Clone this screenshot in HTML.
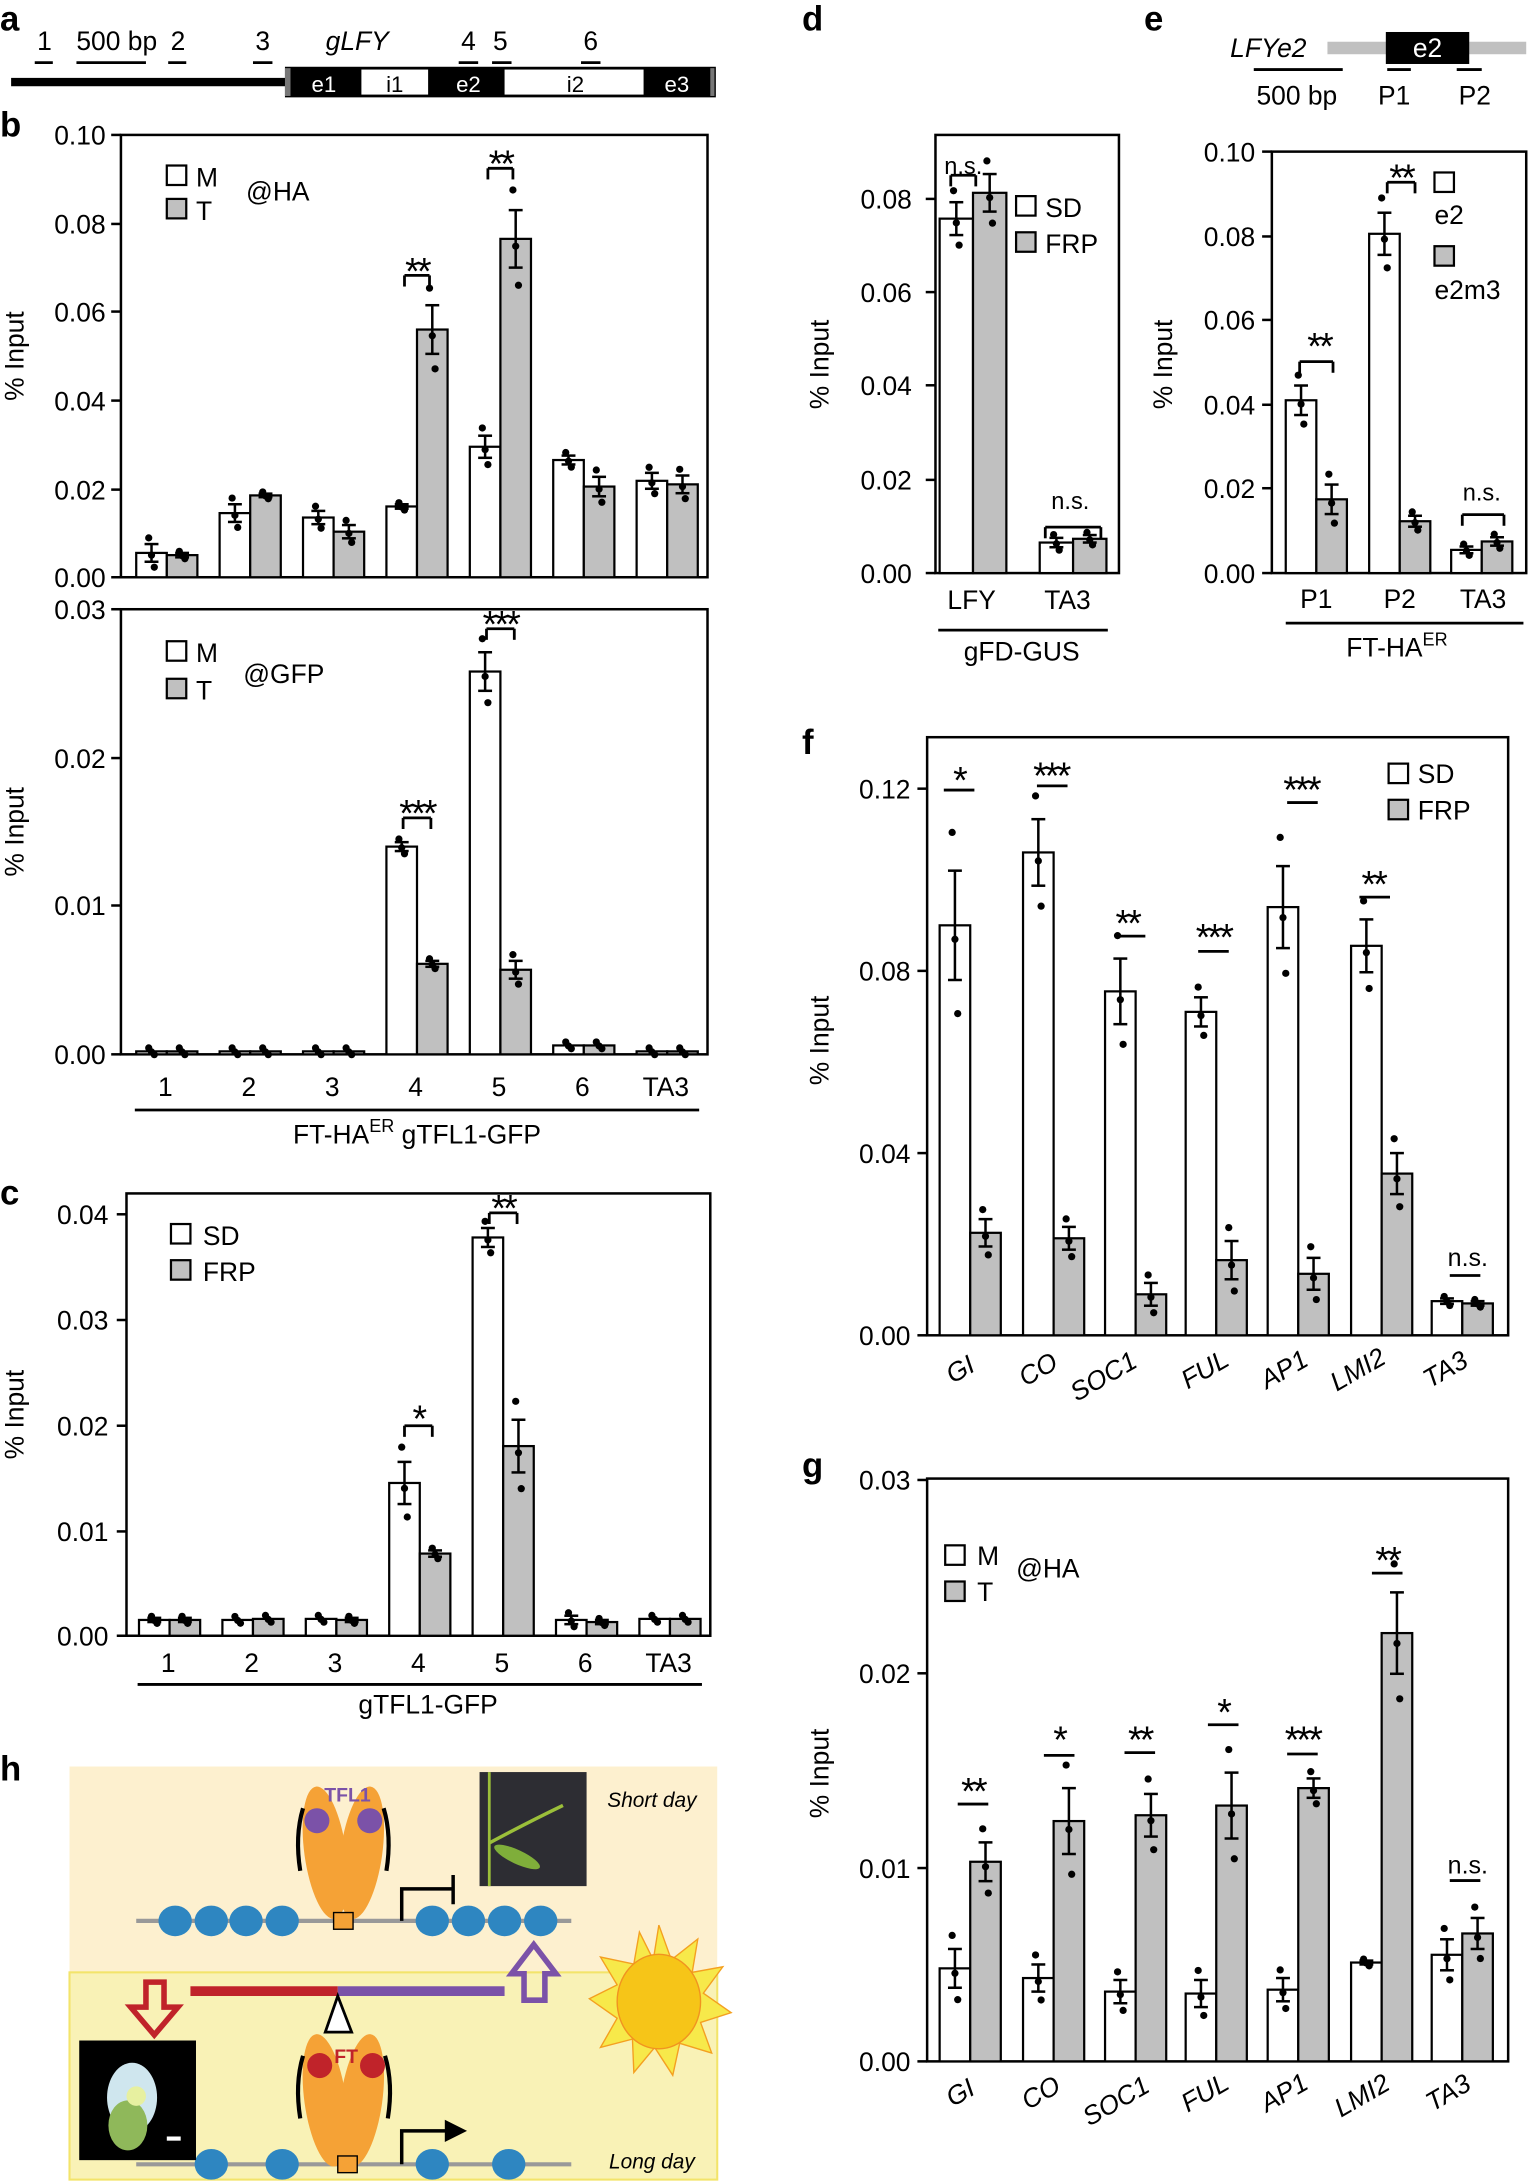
<!DOCTYPE html>
<html><head><meta charset="utf-8">
<style>
html,body{margin:0;padding:0;background:#fff;}
svg{display:block;}
text{font-family:"Liberation Sans",Arial,sans-serif;fill:#000;}
.t{font-size:19px;}
.L{font-size:25px;font-weight:bold;}
.st{font-size:27px;letter-spacing:-2px;}
</style></head>
<body>
<svg id="s" width="1529" height="2181" viewBox="0 0 1100 1568" preserveAspectRatio="none" xmlns="http://www.w3.org/2000/svg">
<rect width="1100" height="1568" fill="#fff"/>
<text class="L" x="0" y="22">a</text>
<text class="L" x="0" y="98">b</text>
<text class="L" x="0" y="866">c</text>
<text class="L" x="577" y="22">d</text>
<text class="L" x="823" y="22">e</text>
<text class="L" x="577" y="542">f</text>
<text class="L" x="577" y="1062">g</text>
<text class="L" x="0" y="1280">h</text>

<g>
<rect x="8" y="56" width="198" height="6" fill="#000"/>
<rect x="205" y="48" width="310" height="22" fill="#000"/>
<rect x="205" y="49" width="4" height="20" fill="#777"/>
<rect x="511" y="49" width="3" height="20" fill="#777"/>
<rect x="260" y="50" width="48" height="18" fill="#fff"/>
<rect x="363" y="50" width="100" height="18" fill="#fff"/>
<text x="233" y="66" font-size="16" text-anchor="middle" style="fill:#fff">e1</text>
<text x="284" y="66" font-size="16" text-anchor="middle">i1</text>
<text x="337" y="66" font-size="16" text-anchor="middle" style="fill:#fff">e2</text>
<text x="414" y="66" font-size="16" text-anchor="middle">i2</text>
<text x="487" y="66" font-size="16" text-anchor="middle" style="fill:#fff">e3</text>
<g stroke="#000" stroke-width="2">
<line x1="25" y1="45" x2="38" y2="45"/><line x1="55" y1="45" x2="105" y2="45"/>
<line x1="121" y1="45" x2="134" y2="45"/><line x1="182" y1="45" x2="196" y2="45"/>
<line x1="330" y1="45" x2="344" y2="45"/><line x1="354" y1="45" x2="368" y2="45"/>
<line x1="418" y1="45" x2="432" y2="45"/>
</g>
<text class="t" x="32" y="36" text-anchor="middle">1</text>
<text class="t" x="84" y="36" text-anchor="middle">500 bp</text>
<text class="t" x="128" y="36" text-anchor="middle">2</text>
<text class="t" x="189" y="36" text-anchor="middle">3</text>
<text class="t" x="257" y="36" text-anchor="middle" font-style="italic">gLFY</text>
<text class="t" x="337" y="36" text-anchor="middle">4</text>
<text class="t" x="360" y="36" text-anchor="middle">5</text>
<text class="t" x="425" y="36" text-anchor="middle">6</text>
</g>

<g text-anchor="end">
<text class="t" x="76" y="104">0.10</text><text class="t" x="76" y="168">0.08</text>
<text class="t" x="76" y="231">0.06</text><text class="t" x="76" y="295">0.04</text>
<text class="t" x="76" y="359">0.02</text><text class="t" x="76" y="422">0.00</text>
</g>
<text class="t" transform="translate(17,256) rotate(-90)" text-anchor="middle">% Input</text>
<text class="t" x="141" y="134">M</text><text class="t" x="141" y="158">T</text>
<text class="t" x="177" y="144">@HA</text>
<text class="st" x="300" y="204" text-anchor="middle">**</text>
<text class="st" x="360" y="127" text-anchor="middle">**</text>

<g text-anchor="end">
<text class="t" x="76" y="445">0.03</text><text class="t" x="76" y="552">0.02</text>
<text class="t" x="76" y="658">0.01</text><text class="t" x="76" y="765">0.00</text>
</g>
<text class="t" transform="translate(17,598) rotate(-90)" text-anchor="middle">% Input</text>
<text class="t" x="141" y="476">M</text><text class="t" x="141" y="503">T</text>
<text class="t" x="175" y="491">@GFP</text>
<text class="st" x="300" y="594" text-anchor="middle">***</text>
<text class="st" x="360" y="458" text-anchor="middle">***</text>
<g text-anchor="middle">
<text class="t" x="119" y="788">1</text><text class="t" x="179" y="788">2</text><text class="t" x="239" y="788">3</text>
<text class="t" x="299" y="788">4</text><text class="t" x="359" y="788">5</text><text class="t" x="419" y="788">6</text>
<text class="t" x="479" y="788">TA3</text>
</g>
<line x1="97" y1="798" x2="503" y2="798" stroke="#000" stroke-width="2"/>
<text class="t" x="300" y="822" text-anchor="middle">FT-HA<tspan font-size="13" dy="-8">ER</tspan><tspan dy="8"> gTFL1-GFP</tspan></text>

<g text-anchor="end">
<text class="t" x="78" y="880">0.04</text><text class="t" x="78" y="956">0.03</text>
<text class="t" x="78" y="1032">0.02</text><text class="t" x="78" y="1108">0.01</text>
<text class="t" x="78" y="1183">0.00</text>
</g>
<text class="t" transform="translate(17,1017) rotate(-90)" text-anchor="middle">% Input</text>
<text class="t" x="146" y="895">SD</text><text class="t" x="146" y="921">FRP</text>
<text class="st" x="301" y="1029" text-anchor="middle">*</text>
<text class="st" x="362" y="878" text-anchor="middle">**</text>
<g text-anchor="middle">
<text class="t" x="121" y="1202">1</text><text class="t" x="181" y="1202">2</text><text class="t" x="241" y="1202">3</text>
<text class="t" x="301" y="1202">4</text><text class="t" x="361" y="1202">5</text><text class="t" x="421" y="1202">6</text>
<text class="t" x="481" y="1202">TA3</text>
</g>
<line x1="99" y1="1211" x2="505" y2="1211" stroke="#000" stroke-width="2"/>
<text class="t" x="308" y="1232" text-anchor="middle">gTFL1-GFP</text>

<g text-anchor="end">
<text class="t" x="656" y="150">0.08</text><text class="t" x="656" y="217">0.06</text>
<text class="t" x="656" y="284">0.04</text><text class="t" x="656" y="352">0.02</text>
<text class="t" x="656" y="419">0.00</text>
</g>
<text class="t" transform="translate(596,262) rotate(-90)" text-anchor="middle">% Input</text>
<text class="t" x="752" y="156">SD</text><text class="t" x="752" y="182">FRP</text>
<text x="693" y="125" font-size="17" text-anchor="middle">n.s.</text>
<text x="770" y="366" font-size="17" text-anchor="middle">n.s.</text>
<text class="t" x="699" y="438" text-anchor="middle">LFY</text>
<text class="t" x="768" y="438" text-anchor="middle">TA3</text>
<line x1="675" y1="453" x2="797" y2="453" stroke="#000" stroke-width="2"/>
<text class="t" x="735" y="475" text-anchor="middle">gFD-GUS</text>

<text class="t" x="885" y="41" font-style="italic">LFYe2</text>
<rect x="955" y="30" width="143" height="9" fill="#c0c0c0"/>
<rect x="997" y="23" width="60" height="23" fill="#000"/>
<text class="t" x="1027" y="41" text-anchor="middle" style="fill:#fff">e2</text>
<g stroke="#000" stroke-width="2">
<line x1="902" y1="50" x2="966" y2="50"/><line x1="998" y1="50" x2="1015" y2="50"/><line x1="1048" y1="50" x2="1066" y2="50"/>
</g>
<text class="t" x="933" y="75" text-anchor="middle">500 bp</text>
<text class="t" x="1003" y="75" text-anchor="middle">P1</text>
<text class="t" x="1061" y="75" text-anchor="middle">P2</text>
<g text-anchor="end">
<text class="t" x="903" y="116">0.10</text><text class="t" x="903" y="177">0.08</text>
<text class="t" x="903" y="237">0.06</text><text class="t" x="903" y="298">0.04</text>
<text class="t" x="903" y="358">0.02</text><text class="t" x="903" y="419">0.00</text>
</g>
<text class="t" transform="translate(843,262) rotate(-90)" text-anchor="middle">% Input</text>
<text class="t" x="1032" y="161">e2</text><text class="t" x="1032" y="215">e2m3</text>
<text class="st" x="949" y="258" text-anchor="middle">**</text>
<text class="st" x="1008" y="137" text-anchor="middle">**</text>
<text x="1066" y="360" font-size="17" text-anchor="middle">n.s.</text>
<text class="t" x="947" y="437" text-anchor="middle">P1</text>
<text class="t" x="1007" y="437" text-anchor="middle">P2</text>
<text class="t" x="1067" y="437" text-anchor="middle">TA3</text>
<line x1="925" y1="448" x2="1096" y2="448" stroke="#000" stroke-width="2"/>
<text class="t" x="1005" y="472" text-anchor="middle">FT-HA<tspan font-size="13" dy="-8">ER</tspan></text>

<g text-anchor="end">
<text class="t" x="655" y="574">0.12</text><text class="t" x="655" y="705">0.08</text>
<text class="t" x="655" y="836">0.04</text><text class="t" x="655" y="967">0.00</text>
</g>
<text class="t" transform="translate(596,748) rotate(-90)" text-anchor="middle">% Input</text>
<text class="t" x="1020" y="563">SD</text><text class="t" x="1020" y="589">FRP</text>
<g text-anchor="middle">
<text class="st" x="690" y="570">*</text><text class="st" x="756" y="567">***</text>
<text class="st" x="811" y="673">**</text><text class="st" x="873" y="683">***</text>
<text class="st" x="936" y="577">***</text><text class="st" x="988" y="645">**</text>
</g>
<text x="1056" y="910" font-size="18" text-anchor="middle">n.s.</text>
<g font-style="italic" text-anchor="middle">
<text class="t" transform="translate(694,990) rotate(-30)">GI</text>
<text class="t" transform="translate(750,990) rotate(-30)">CO</text>
<text class="t" transform="translate(797,995) rotate(-30)">SOC1</text>
<text class="t" transform="translate(870,990) rotate(-30)">FUL</text>
<text class="t" transform="translate(927,990) rotate(-30)">AP1</text>
<text class="t" transform="translate(980,990) rotate(-30)">LMI2</text>
<text class="t" transform="translate(1043,990) rotate(-30)">TA3</text>
</g>

<g text-anchor="end">
<text class="t" x="655" y="1071">0.03</text><text class="t" x="655" y="1210">0.02</text>
<text class="t" x="655" y="1350">0.01</text><text class="t" x="655" y="1489">0.00</text>
</g>
<text class="t" transform="translate(596,1275) rotate(-90)" text-anchor="middle">% Input</text>
<text class="t" x="703" y="1125">M</text><text class="t" x="703" y="1151">T</text>
<text class="t" x="731" y="1134">@HA</text>
<g text-anchor="middle">
<text class="st" x="700" y="1297">**</text><text class="st" x="762" y="1260">*</text>
<text class="st" x="820" y="1260">**</text><text class="st" x="880" y="1240">*</text>
<text class="st" x="937" y="1260">***</text><text class="st" x="998" y="1131">**</text>
</g>
<text x="1056" y="1347" font-size="18" text-anchor="middle">n.s.</text>
<g font-style="italic" text-anchor="middle">
<text class="t" transform="translate(694,1510) rotate(-30)">GI</text>
<text class="t" transform="translate(752,1510) rotate(-30)">CO</text>
<text class="t" transform="translate(806,1516) rotate(-30)">SOC1</text>
<text class="t" transform="translate(870,1510) rotate(-30)">FUL</text>
<text class="t" transform="translate(927,1510) rotate(-30)">AP1</text>
<text class="t" transform="translate(983,1512) rotate(-30)">LMI2</text>
<text class="t" transform="translate(1045,1510) rotate(-30)">TA3</text>
</g>

<g>
<rect x="50" y="1270" width="466" height="148" fill="#fdf0cf"/>
<rect x="50" y="1418" width="466" height="149" fill="#f9f2b6" stroke="#f3e46a" stroke-width="1.5"/>
<line x1="98" y1="1381" x2="411" y2="1381" stroke="#999" stroke-width="3"/>
<g fill="#2e86c1">
<ellipse cx="126" cy="1381" rx="12" ry="11"/><ellipse cx="152" cy="1381" rx="12" ry="11"/>
<ellipse cx="177" cy="1381" rx="12" ry="11"/><ellipse cx="203" cy="1381" rx="12" ry="11"/>
<ellipse cx="311" cy="1381" rx="12" ry="11"/><ellipse cx="337" cy="1381" rx="12" ry="11"/>
<ellipse cx="363" cy="1381" rx="12" ry="11"/><ellipse cx="389" cy="1381" rx="12" ry="11"/>
</g>
<ellipse cx="234" cy="1332" rx="15" ry="48" fill="#f5a236" transform="rotate(-8 234 1332)"/>
<ellipse cx="260" cy="1332" rx="15" ry="48" fill="#f5a236" transform="rotate(8 260 1332)"/>
<path d="M218 1300 Q212 1320 216 1345" stroke="#000" stroke-width="3" fill="none"/>
<path d="M276 1300 Q282 1320 278 1345" stroke="#000" stroke-width="3" fill="none"/>
<circle cx="228" cy="1309" r="9" fill="#7b52a8"/><circle cx="266" cy="1309" r="9" fill="#7b52a8"/>
<text x="250" y="1295" font-size="14" font-weight="bold" text-anchor="middle" style="fill:#7b52a8">TFL1</text>
<rect x="240" y="1375" width="14" height="12" fill="#f5a236" stroke="#000" stroke-width="1"/>
<path d="M289 1381 V1358 H326 M326 1348 V1369" stroke="#000" stroke-width="2.5" fill="none"/>
<rect x="345" y="1274" width="77" height="82" fill="#2d2d33"/>
<path d="M352 1274 V1356" stroke="#9bbf3a" stroke-width="2"/>
<path d="M352 1325 Q380 1310 405 1298" stroke="#9bbf3a" stroke-width="2.5" fill="none"/>
<ellipse cx="372" cy="1335" rx="18" ry="5" fill="#7fae3a" transform="rotate(25 372 1335)"/>
<text x="469" y="1299" font-size="15" font-style="italic" text-anchor="middle">Short day</text>
<text x="469" y="1559" font-size="15" font-style="italic" text-anchor="middle">Long day</text>
<rect x="137" y="1428" width="106" height="7" fill="#c0232a"/>
<rect x="243" y="1428" width="120" height="7" fill="#7b52a8"/>
<path d="M243 1435 L234 1461 L253 1461 Z" fill="#fff" stroke="#000" stroke-width="2"/>
<path d="M105 1425 H118 V1443 H128 L111 1463 L94 1443 H105 Z" fill="none" stroke="#c0232a" stroke-width="4"/>
<path d="M377 1438 V1419 H368 L384 1398 L400 1419 H392 V1438 Z" fill="none" stroke="#7b52a8" stroke-width="4"/>
<g transform="translate(474,1439)">
<path d="M0 -55 L9 -30 L28 -45 L24 -21 L46 -25 L32 -6 L52 8 L30 15 L38 37 L15 30 L10 53 L-3 33 L-18 51 L-19 27 L-42 33 L-30 12 L-50 -2 L-30 -12 L-42 -32 L-18 -27 L-14 -50 L-4 -30 Z" fill="#f7e94a" stroke="#f4a020" stroke-width="1"/>
<ellipse cx="0" cy="0" rx="30" ry="34" fill="#f6c518" stroke="#f19320" stroke-width="1"/>
</g>
<line x1="98" y1="1556" x2="411" y2="1556" stroke="#999" stroke-width="3"/>
<g fill="#2e86c1">
<ellipse cx="152" cy="1556" rx="12" ry="11"/><ellipse cx="203" cy="1556" rx="12" ry="11"/>
<ellipse cx="311" cy="1556" rx="12" ry="11"/><ellipse cx="366" cy="1556" rx="12" ry="11"/>
</g>
<ellipse cx="234" cy="1510" rx="15" ry="48" fill="#f5a236" transform="rotate(-8 234 1510)"/>
<ellipse cx="260" cy="1510" rx="15" ry="48" fill="#f5a236" transform="rotate(8 260 1510)"/>
<path d="M218 1478 Q212 1498 216 1523" stroke="#000" stroke-width="3" fill="none"/>
<path d="M277 1478 Q283 1498 279 1523" stroke="#000" stroke-width="3" fill="none"/>
<circle cx="230" cy="1485" r="9" fill="#c0232a"/><circle cx="268" cy="1485" r="9" fill="#c0232a"/>
<text x="249" y="1483" font-size="14" font-weight="bold" text-anchor="middle" style="fill:#c0232a">FT</text>
<rect x="243" y="1550" width="14" height="12" fill="#f5a236" stroke="#000" stroke-width="1"/>
<path d="M289 1556 V1532 H322" stroke="#000" stroke-width="2.5" fill="none"/>
<path d="M320 1524 L336 1532 L320 1540 Z" fill="#000"/>
<rect x="57" y="1467" width="84" height="86" fill="#000"/>
<ellipse cx="95" cy="1508" rx="18" ry="25" fill="#cfe6ee"/>
<ellipse cx="92" cy="1528" rx="14" ry="18" fill="#8fb85a"/>
<circle cx="98" cy="1507" r="7" fill="#e7f0a0"/>
<rect x="120" y="1536" width="10" height="3" fill="#fff"/>
</g>

<g id="plots"></g>
</svg>
<script>
(function(){
var NS="http://www.w3.org/2000/svg",P=document.getElementById("plots");
function el(n,a){var e=document.createElementNS(NS,n);for(var k in a)e.setAttribute(k,a[k]);P.appendChild(e);return e;}
function line(x1,y1,x2,y2,w){el("line",{x1:x1,y1:y1,x2:x2,y2:y2,stroke:"#000","stroke-width":w||1.8});}
function box(x1,y1,x2,y2,ticks){el("rect",{x:x1,y:y1,width:x2-x1,height:y2-y1,fill:"none",stroke:"#000","stroke-width":1.8});
 ticks.forEach(function(t){line(x1-7,t,x1,t);});}
function bars(y0,k,bw,gs){
 gs.forEach(function(g){
  var c=g[0];
  [[c-bw,g[1],g[2],"#fff"],[c,g[3],g[4],"#c0c0c0"]].forEach(function(b){
   var x=b[0],v=b[1],e=b[2],h=v*k;
   el("rect",{x:x,y:y0-h,width:bw,height:h,fill:b[3],stroke:"#000","stroke-width":1.6});
   var cx=x+bw/2,ep=e*k;
   if(ep>1){line(cx,y0-h-ep,cx,y0-h+ep);line(cx-5,y0-h-ep,cx+5,y0-h-ep);line(cx-5,y0-h+ep,cx+5,y0-h+ep);}
   var d=Math.max(ep*1.7,2.5);
   [[-1,-d],[0,d*0.15],[1,d*0.95]].forEach(function(o){el("circle",{cx:cx+o[0]*2,cy:y0-h+o[1],r:2.6,fill:"#000"});});
  });
 });
}
function br(c,y,w,tk){line(c-w,y,c+w,y,2);if(tk){line(c-w,y,c-w,y+8,2);line(c+w,y,c+w,y+8,2);}}
function leg(x,y,f){el("rect",{x:x,y:y,width:14,height:14,fill:f,stroke:"#000","stroke-width":1.6});}
box(87,97,509,415,[97,161,224,288,352,415]);
bars(415,3180,22,[[120,.0055,.002,.005,.0005],[180,.0145,.002,.0185,.0004],[240,.0135,.0015,.0103,.0015],[300,.016,.0005,.056,.0055],[360,.0295,.0025,.0765,.0065],[420,.0265,.001,.0205,.0022],[480,.0218,.0018,.021,.002]]);
br(300,198,9,1);br(360,121,9,1);leg(120,119,"#fff");leg(120,143,"#c0c0c0");
box(87,438,509,758,[438,545,651,758]);
bars(758,10667,22,[[120,.0002,0,.0002,0],[180,.0002,0,.0002,0],[240,.0002,0,.0002,0],[300,.014,.0003,.0061,.0002],[360,.0258,.0013,.0057,.0006],[420,.0006,0,.0006,0],[480,.0002,0,.0002,0]]);
br(300,588,10,1);br(360,452,10,1);leg(120,461,"#fff");leg(120,488,"#c0c0c0");
box(91,858,511,1176,[873,949,1025,1101,1176]);
bars(1176,7575,22,[[122,.0015,.0002,.0015,.0002],[182,.0015,.0001,.0016,.0001],[242,.0016,.0001,.0015,.0002],[302,.0145,.002,.0078,.0003],[362,.0378,.0009,.018,.0025],[422,.0015,.0004,.0013,.0002],[482,.0016,0,.0016,0]]);
br(301,1025,10,1);br(362,872,10,1);leg(123,880,"#fff");leg(123,906,"#c0c0c0");
box(673,97,805,412,[143,210,277,345,412]);
bars(412,3375,24,[[700,.0755,.0035,.081,.004],[772,.0065,.001,.0073,.0008]]);
br(693,126,9,1);br(772,379,20,1);leg(731,141,"#fff");leg(731,167,"#c0c0c0");
box(915,109,1098,412,[109,170,230,291,351,412]);
bars(412,3030,22,[[947,.041,.0035,.0175,.0035],[1007,.0805,.005,.0123,.0013],[1066,.0055,.0008,.0075,.001]]);
br(947,260,12,1);br(1008,131,10,1);br(1067,370,15,1);leg(1032,124,"#fff");leg(1032,177,"#c0c0c0");
box(667,530,1085,960,[567,698,829,960]);
bars(960,3275,22,[[698,.09,.012,.0225,.003],[758,.106,.0073,.0213,.0025],[817,.0755,.0072,.009,.0025],[875,.071,.0032,.0165,.0042],[934,.094,.009,.0135,.0035],[994,.0855,.0058,.0355,.0045],[1052,.0075,.0006,.007,.0005]]);
[[690,568],[757,565],[813,673],[873,684],[937,577],[989,645],[1054,917]].forEach(function(a){br(a[0],a[1],11,0);});
leg(999,549,"#fff");leg(999,575,"#c0c0c0");
box(667,1063,1085,1482,[1064,1203,1343,1482]);
bars(1482,13933,22,[[698,.0048,.001,.0103,.001],[758,.0043,.0007,.0124,.0017],[817,.0036,.0006,.0127,.0011],[875,.0035,.0007,.0132,.0017],[934,.0037,.0006,.0141,.0005],[994,.0051,.0001,.0221,.0021],[1052,.0055,.0008,.0066,.0008]]);
[[700,1297],[762,1262],[820,1260],[880,1240],[937,1261],[998,1131],[1054,1352]].forEach(function(a){br(a[0],a[1],11,0);});
leg(680,1111,"#fff");leg(680,1137,"#c0c0c0");
})();
</script>
</body></html>
